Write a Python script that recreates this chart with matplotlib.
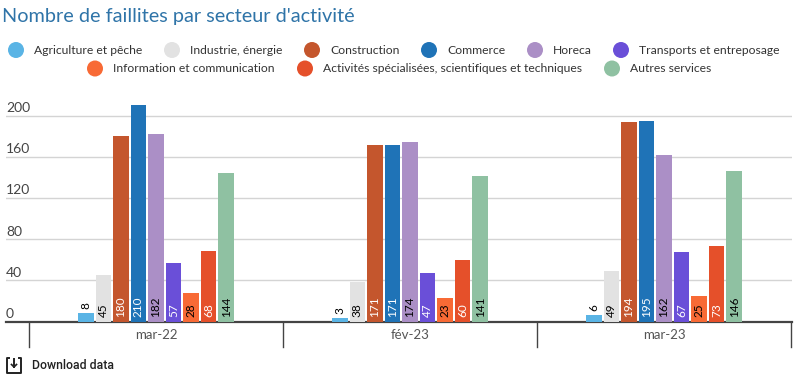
import numpy as np
import matplotlib
matplotlib.use("Agg")
import matplotlib.pyplot as plt
from matplotlib.patches import Circle

plt.rcParams['font.family'] = ['Lato', 'DejaVu Sans']

# Chart data
months = ["mar-22", "fév-23", "mar-23"]
secteurs = ["Agriculture et pêche", "Industrie, énergie", "Construction", "Commerce", "Horeca",
            "Transports et entreposage", "Information et communication",
            "Activités spécialisées, scientifiques et techniques", "Autres services"]
agriculture = [8, 3, 6]
industrie = [45, 38, 49]
construction = [180, 171, 194]
commerce = [210, 171, 195]
horeca = [182, 174, 162]
transports = [57, 47, 67]
information = [28, 23, 25]
activites = [68, 60, 73]
autres = [144, 141, 146]
series = [agriculture, industrie, construction, commerce, horeca,
          transports, information, activites, autres]
y_ticks = [0, 40, 80, 120, 160, 200]

colors = ["#5ab4e5", "#e2e2e2", "#c4562d", "#1f73b7", "#ab8fc6",
          "#6a4fd8", "#f86a35", "#e5502a", "#8fc1a2"]
label_colors = ["black", "black", "white", "white", "black",
                "white", "black", "white", "black"]

W, H = 799, 376
fig = plt.figure(figsize=(W / 100, H / 100), dpi=100)

# Plot area in pixels: x 6..792, y 321.5 (zero) up to 95
left, right, zero_y, top_y = 6, 792, 321.5, 95
center0 = 156
ax = fig.add_axes([left / W, 1 - zero_y / H, (right - left) / W, (zero_y - top_y) / H])
ax.set_xlim((left - center0) / 254, (right - center0) / 254)
ax.set_ylim(0, (zero_y - top_y) / 1.03)

step = 17.55 / 254
bar_w = 15.6 / 254
x = np.arange(len(months))
for i, vals in enumerate(series):
    xs = x + (i - 4) * step
    ax.bar(xs, vals, width=bar_w, color=colors[i], zorder=3)
    for xi, v in zip(xs, vals):
        if v < 20:
            ax.text(xi, v + 4, str(v), rotation=90, ha='center', va='bottom',
                    fontsize=8.5, color='black', zorder=4)
        else:
            ax.text(xi, 4, str(v), rotation=90, ha='center', va='bottom',
                    fontsize=8.5, color=label_colors[i], zorder=4)

for s in ['top', 'left', 'right']:
    ax.spines[s].set_visible(False)
ax.spines['bottom'].set_color('#444444')
ax.spines['bottom'].set_linewidth(1.6)
ax.set_yticks(y_ticks)
ax.set_yticklabels([])
ax.tick_params(axis='y', length=0)
ax.grid(axis='y', color='#d4d4d4', linewidth=1, zorder=0)
ax.set_axisbelow(True)
ax.set_xticks(x)
ax.set_xticklabels([])
ax.tick_params(axis='x', length=0)
ax.patch.set_alpha(0)

# Overlay in pixel coordinates for the title, legend and the rest
ov = fig.add_axes([0, 0, 1, 1], zorder=5)
ov.set_xlim(0, W)
ov.set_ylim(H, 0)
ov.axis('off')

ov.text(2.5, 16.5, "Nombre de faillites par secteur d'activité", fontsize=14.35,
        color='#2f74a8', va='center', ha='left')

legend_x = [16, 172, 312, 429, 535, 621, 95, 305, 612]
legend_y = [50, 50, 50, 50, 50, 50, 68.5, 68.5, 68.5]
for name, c, lx, ly in zip(secteurs, colors, legend_x, legend_y):
    ov.add_patch(Circle((lx, ly), 8, color=c, lw=0))
    ov.text(lx + 18, ly, name, fontsize=8.75, color='#333333', va='center', ha='left')

for v in y_ticks:
    py = zero_y - v * 1.03
    ov.text(6, py - 7.5, str(v), fontsize=10, color='#444444', va='center', ha='left')

# category separators and month labels
for sep in [29.5, 283.5, 537.5, 791.5]:
    ov.plot([sep - 0.5, sep - 0.5], [zero_y, 347], color='#444444', lw=1)
for i, m in enumerate(months):
    ov.text(center0 + i * 254, 335, m, fontsize=9.5, color='#555555', va='center', ha='center')

# download link
ov.plot([9, 7, 7, 21, 21, 19], [358, 358, 373, 373, 358, 358], color='#222222', lw=1.4)
ov.plot([14, 14], [359, 367], color='#222222', lw=1.4)
ov.plot([11.5, 14, 16.5], [364.5, 367, 364.5], color='#222222', lw=1.2)
ov.text(31.5, 365.5, "Download data", fontsize=8.8, color='#222222', va='center', ha='left',
        fontweight='medium', family=['Roboto', 'DejaVu Sans'])

fig.savefig('out.png', dpi=100)
